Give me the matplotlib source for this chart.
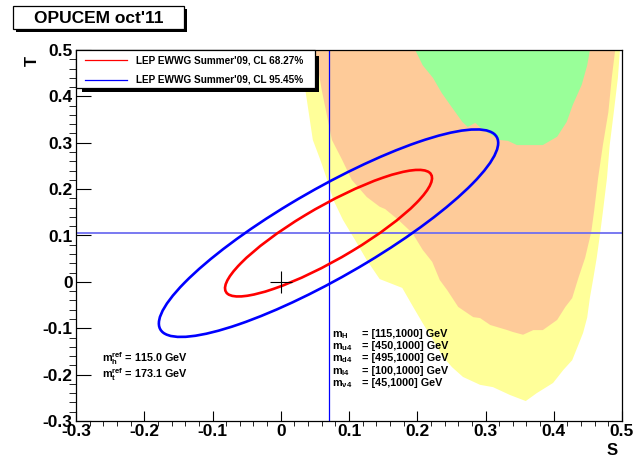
import numpy as np
import matplotlib
matplotlib.use('Agg')
import matplotlib.pyplot as plt
from matplotlib.patches import Ellipse, Rectangle
from matplotlib.lines import Line2D
from matplotlib.ticker import MultipleLocator, FuncFormatter

plt.rcParams['font.family'] = ['Liberation Sans', 'DejaVu Sans']
plt.rcParams['font.weight'] = 'bold'
plt.rcParams['mathtext.fontset'] = 'custom'
plt.rcParams['mathtext.rm'] = 'Liberation Sans:bold'
plt.rcParams['mathtext.it'] = 'Liberation Sans:bold'
plt.rcParams['mathtext.bf'] = 'Liberation Sans:bold'

# ---------------- data ----------------
yellow_S = [0.025, 0.036, 0.047, 0.058, 0.068, 0.077, 0.091, 0.109, 0.126, 0.145, 0.178, 0.194, 0.208,
            0.223, 0.238, 0.251, 0.267, 0.292, 0.311, 0.336, 0.359, 0.375, 0.399, 0.414, 0.427, 0.436,
            0.443, 0.449, 0.453, 0.458, 0.463, 0.468, 0.472, 0.478, 0.482, 0.488, 0.494, 0.497]
yellow_T = [0.500, 0.414, 0.306, 0.263, 0.220, 0.177, 0.134, 0.090, 0.047, 0.006, -0.013, -0.054, -0.089,
            -0.125, -0.162, -0.184, -0.205, -0.222, -0.227, -0.244, -0.257, -0.240, -0.218, -0.190, -0.169,
            -0.136, -0.110, -0.077, -0.034, 0.008, 0.052, 0.105, 0.151, 0.224, 0.295, 0.366, 0.440, 0.500]

orange_S = [0.050, 0.060, 0.075, 0.090, 0.104, 0.126, 0.145, 0.153, 0.172, 0.193, 0.208, 0.222, 0.233,
            0.244, 0.260, 0.282, 0.292, 0.307, 0.332, 0.340, 0.355, 0.370, 0.384, 0.405, 0.417, 0.427,
            0.436, 0.446, 0.455, 0.459, 0.465, 0.472, 0.480, 0.485, 0.490]
orange_T = [0.500, 0.414, 0.306, 0.263, 0.220, 0.183, 0.162, 0.157, 0.134, 0.105, 0.069, 0.043, 0.004,
            -0.018, -0.054, -0.076, -0.078, -0.093, -0.104, -0.108, -0.114, -0.104, -0.104, -0.082, -0.054,
            -0.035, 0.008, 0.052, 0.108, 0.151, 0.224, 0.295, 0.366, 0.440, 0.500]

green_S = [0.197, 0.208, 0.223, 0.236, 0.248, 0.266, 0.274, 0.285, 0.296, 0.321, 0.333, 0.346, 0.384,
           0.405, 0.419, 0.428, 0.441, 0.449, 0.453]
green_T = [0.500, 0.467, 0.440, 0.407, 0.382, 0.345, 0.334, 0.343, 0.328, 0.306, 0.304, 0.295, 0.295,
           0.313, 0.345, 0.382, 0.425, 0.467, 0.500]

lep_center_S = 0.07
lep_center_T = 0.105
lep_sigma_S = 0.100
lep_sigma_T = 0.090
lep_rho = 0.87
cl_labels = ["LEP EWWG Summer'09, CL 68.27%", "LEP EWWG Summer'09, CL 95.45%"]
cl_dchi2 = [2.30, 6.18]
cl_colors = ['#ff0000', '#0000ff']

ref_point = (0.0, 0.0)

ref_lines = [r"m$_{\rm h}^{\rm ref}$ = 115.0 GeV", r"m$_{\rm t}^{\rm ref}$ = 173.1 GeV"]
mass_names = [r"m$_{\rm H}$", r"m$_{\rm u4}$", r"m$_{\rm d4}$", r"m$_{\rm l4}$", r"m$_{\nu\rm 4}$"]
mass_ranges = ["= [115,1000] GeV", "= [450,1000] GeV", "= [495,1000] GeV", "= [100,1000] GeV", "= [45,1000] GeV"]

# ---------------- figure ----------------
W, H = 641, 461
fig = plt.figure(figsize=(W / 100, H / 100), dpi=100)

def fx(px):
    return px / W

def fy(py):
    return 1 - py / H

ax = fig.add_axes([fx(76), fy(421), fx(622) - fx(76), fy(50) - fy(421)])
ax.set_xlim(-0.3, 0.5)
ax.set_ylim(-0.3, 0.5)

ax.fill(yellow_S, yellow_T, color='#ffff99', lw=0, zorder=1)
ax.fill(orange_S, orange_T, color='#fecb99', lw=0, zorder=2)
ax.fill(green_S, green_T, color='#99ff99', lw=0, zorder=3)

ax.axvline(lep_center_S, color='#0000ff', lw=0.9, zorder=4)
ax.axhline(lep_center_T, color='#6e6ef0', lw=1.3, zorder=4)

cov = np.array([[lep_sigma_S ** 2, lep_rho * lep_sigma_S * lep_sigma_T],
                [lep_rho * lep_sigma_S * lep_sigma_T, lep_sigma_T ** 2]])
vals, vecs = np.linalg.eigh(cov)
angle = np.degrees(np.arctan2(vecs[1, 1], vecs[0, 1]))
for k, c in zip(cl_dchi2, cl_colors):
    e = Ellipse((lep_center_S, lep_center_T), 2 * np.sqrt(k * vals[1]), 2 * np.sqrt(k * vals[0]),
                angle=angle, fill=False, edgecolor=c, lw=1.9, zorder=5)
    ax.add_patch(e)

ax.plot([ref_point[0]], [ref_point[1]], marker='+', ms=16, mew=0.8, color='black', zorder=6)

# ticks
fmt = FuncFormatter(lambda v, p: '0' if abs(v) < 1e-9 else ('%.1f' % v))
ax.xaxis.set_major_locator(MultipleLocator(0.1))
ax.xaxis.set_minor_locator(MultipleLocator(0.02))
ax.yaxis.set_major_locator(MultipleLocator(0.1))
ax.yaxis.set_minor_locator(MultipleLocator(0.02))
ax.xaxis.set_major_formatter(fmt)
ax.yaxis.set_major_formatter(fmt)
ax.tick_params(direction='in', top=False, right=False, labelsize=12.5, color='black', width=0.8)
ax.tick_params(axis='x', which='major', length=7.2, pad=2.5)
ax.tick_params(axis='x', which='minor', length=3.4)
ax.tick_params(axis='y', which='major', length=10.8, pad=2.5)
ax.tick_params(axis='y', which='minor', length=5.3)
for lab in ax.get_xticklabels() + ax.get_yticklabels():
    lab.set_fontweight('bold')
for sp in ax.spines.values():
    sp.set_linewidth(0.9)
    sp.set_zorder(10)

fig.text(fx(32), fy(61), 'T', rotation=90, ha='center', va='center', fontsize=12, fontweight='bold')
fig.text(fx(612), fy(450), 'S', ha='center', va='center', fontsize=12, fontweight='bold')

# annotations
ref_S = -0.262
ref_T = [-0.1729, -0.2064]
for t, yv in zip(ref_lines, ref_T):
    ax.text(ref_S, yv, t, fontsize=7.8, fontweight='bold', va='baseline', ha='left', zorder=7)

mass_T = [-0.1188, -0.1447, -0.1706, -0.1986, -0.2245]
for n, r, yv in zip(mass_names, mass_ranges, mass_T):
    ax.text(0.0751, yv, n, fontsize=7.8, fontweight='bold', va='baseline', ha='left', zorder=7)
    ax.text(0.1191, yv, r, fontsize=7.8, fontweight='bold', va='baseline', ha='left', zorder=7)

# legend (drawn as a ROOT-style box with shadow)
fig.patches.append(Rectangle((fx(82), fy(92)), fx(319) - fx(82), fy(56) - fy(92),
                             transform=fig.transFigure, facecolor='black', edgecolor='none', zorder=20))
fig.patches.append(Rectangle((fx(76), fy(88)), fx(315) - fx(76), fy(50) - fy(88),
                             transform=fig.transFigure, facecolor='white', edgecolor='black', lw=0.9, zorder=21))
for i, (lab, c) in enumerate(zip(cl_labels, cl_colors)):
    yy = 60.5 + 19 * i
    fig.lines.append(Line2D([fx(85), fx(127)], [fy(yy), fy(yy)], color=c, lw=0.9,
                            transform=fig.transFigure, zorder=22))
    fig.text(fx(136), fy(yy), lab, fontsize=7.2, fontweight='bold', va='center', ha='left', zorder=22)

# title box with shadow
fig.patches.append(Rectangle((fx(16), fy(32)), fx(187) - fx(16), fy(9) - fy(32),
                             transform=fig.transFigure, facecolor='black', edgecolor='none', zorder=20))
fig.patches.append(Rectangle((fx(13), fy(29.5)), fx(184) - fx(13), fy(6) - fy(29.5),
                             transform=fig.transFigure, facecolor='white', edgecolor='black', lw=0.9, zorder=21))
fig.text(fx(99), fy(18.5), "OPUCEM oct'11", fontsize=12.5, fontweight='bold', ha='center', va='center', zorder=22)

fig.savefig('out.png', dpi=100)
